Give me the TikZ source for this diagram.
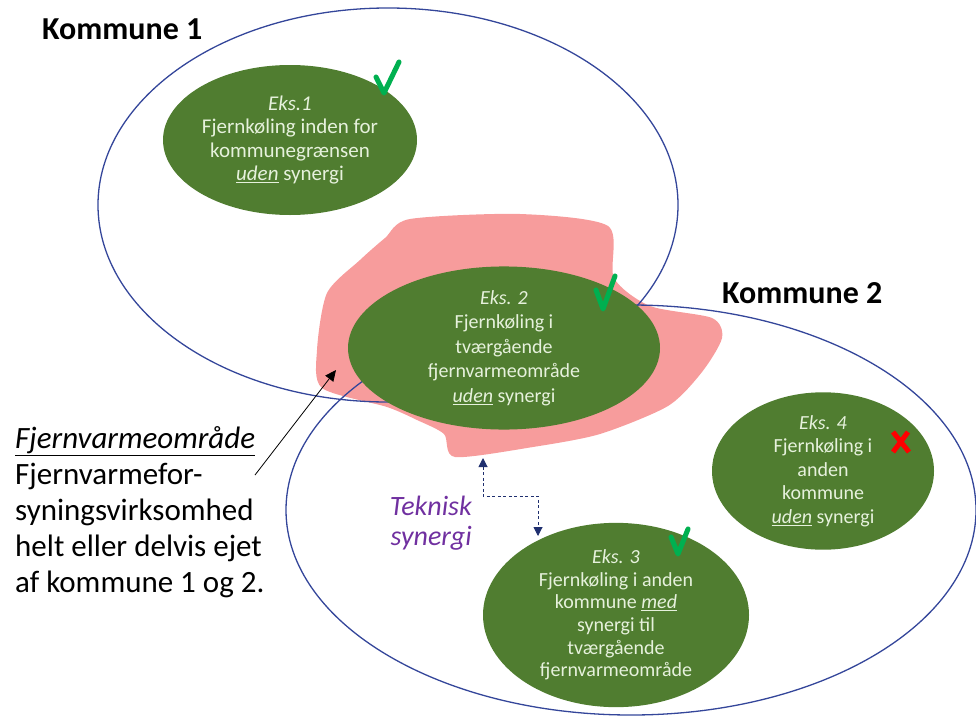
\documentclass[tikz,border=0pt]{standalone}
\usepackage{fontspec}
\setmainfont{Carlito}
\usetikzlibrary{shapes.geometric,arrows.meta}
\definecolor{kline}{HTML}{34469A}
\definecolor{gfill}{HTML}{507D30}
\definecolor{pinkarea}{HTML}{F79C9C}
\definecolor{gtext}{HTML}{E6F1DC}
\definecolor{tickgreen}{HTML}{00B050}
\definecolor{purp}{HTML}{7030A0}
\definecolor{navy}{HTML}{1F2F6F}
\tikzset{
  region/.style={ellipse,draw=kline,line width=1.3pt,inner sep=0pt},
  example/.style={ellipse,fill=gfill,inner sep=0pt,text=gtext,align=center,
    font=\fontsize{20}{23.5}\selectfont},
  kommune/.style={font=\fontsize{32}{36}\selectfont\bfseries,anchor=base west,inner sep=0pt},
  tick/.style={draw=tickgreen,line width=5pt,line cap=round,line join=round},
  cross/.style={draw=red,line width=5pt},
}
\begin{document}
\begin{tikzpicture}[x=1pt,y=-1pt]
\useasboundingbox (0,0) rectangle (976,717);
% pink area
\fill[pinkarea] plot[smooth cycle,tension=0.45] coordinates {
 (410,219) (520,214) (608,226) (614,278) (650,306) (712,318) (722,338)
 (702,372) (668,406) (600,434) (533,447) (455,457) (444,434) (417,420)
 (387,407) (322,388) (317,350) (327,293) (360,260) (385,238)};
% municipalities
\node[region,minimum width=580pt,minimum height=394pt] (k1) at (388,205) {};
\node[region,minimum width=690pt,minimum height=410pt] (k2) at (631,510) {};
\node[kommune] (k1lab) at (42,40) {Kommune 1};
\node[kommune] (k2lab) at (722,303) {Kommune 2};
% examples
\node[example,minimum width=254pt,minimum height=150pt,font=\fontsize{21}{23.5}\selectfont] (e1) at (290,140)
  {\textit{Eks.1}\\Fjernkøling inden for\\kommunegrænsen\\\underline{\textit{uden}} synergi};
\node[example,minimum width=312pt,minimum height=160pt,font=\fontsize{20}{24.5}\selectfont] (e2) at (504,348)
  {\textit{Eks. 2}\\Fjernkøling i\\tværgående\\fjernvarmeområde\\\underline{\textit{uden}} synergi};
\node[example,minimum width=266pt,minimum height=184pt,font=\fontsize{20}{22.6}\selectfont] (e3) at (616,615)
  {\textit{Eks. 3}\\Fjernkøling i anden\\kommune \underline{\textit{med}}\\synergi til\\tværgående\\fjernvarmeområde};
\node[example,minimum width=222pt,minimum height=150pt] (e4) at (823,471)
  {\textit{Eks. 4}\\Fjernkøling i\\anden\\kommune\\\underline{\textit{uden}} synergi};
% ticks and cross
\draw[tick] (376,77) -- (384,93) -- (399,62);
\draw[tick] (596,290) -- (603,309) -- (615,276);
\draw[tick] (671,537) -- (678,554) -- (688,529);
\draw[cross] (893,432) -- (909,452) (908,432) -- (893,452);
% left text
\node[anchor=base west,inner sep=0pt,align=left,font=\fontsize{31}{36}\selectfont] (desc) at (15,592)
  {\underline{\textit{Fjernvarmeområde}}\\Fjernvarmefor-\\syningsvirksomhed\\helt eller delvis ejet\\af kommune 1 og 2.};
\coordinate (arrstart) at (255,475);
\coordinate (arrend) at (336,370);
\draw[-{Triangle[length=11pt,width=10pt]},line width=0.8pt] (arrstart) -- (arrend);
% technical synergy
\node[anchor=base east,inner sep=0pt,align=right,text=purp,font=\fontsize{28}{30}\selectfont\itshape] (syn) at (472,545)
  {Teknisk\\synergi};
\coordinate (sa) at (483,458);
\coordinate (sb) at (538,536);
\draw[navy,line width=1pt,dash pattern=on 3pt off 2.5pt,{Triangle[length=9pt,width=9pt]}-{Triangle[length=9pt,width=9pt]}]
  (sa) -- (483,496) -- (538,496) -- (sb);
\end{tikzpicture}
\end{document}
